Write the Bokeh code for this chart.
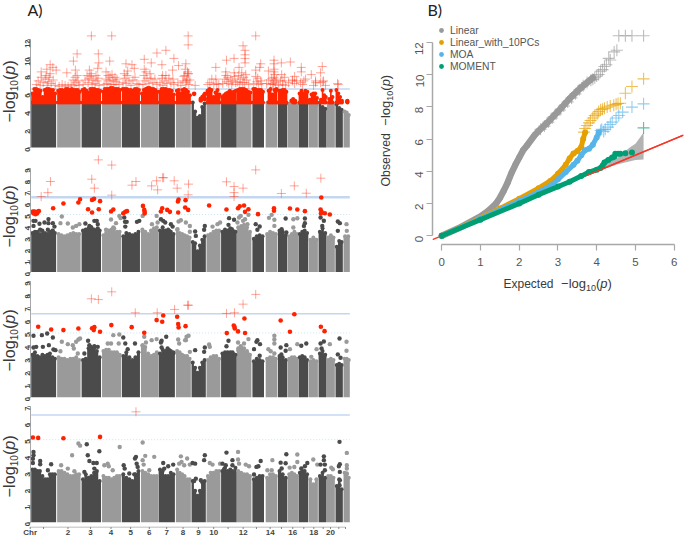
import math
import numpy as np
from bokeh.plotting import figure
from bokeh.layouts import row, column
from bokeh.models import Label, FixedTicker, Legend, LegendItem, Range1d
from bokeh.core.properties import value
from bokeh.embed import file_html
from bokeh.resources import INLINE

THRESHOLD = 6.5
SUGGESTIVE = 5.0

chr_start = [0,26,50.5,71,90.8,110,127.7,145,160.7,175.7,190.3,206,221.7,235,247.3,257.3,268,278.3,288,296.3,305,313]
chr_end = [25,49.5,70,90,109,127.3,144,160,175,189.7,206,220.7,233.3,246.7,256.7,267.7,277.7,287.3,296,304.3,312.3,319.3]
x_tick_pos = [0,13.3,37.7,60.3,80.7,100.3,119,136.3,152.7,168,183.3,197.7,212.7,226,239.7,251,262.3,273.3,283.3,292.7,300,308.3,315]
x_tick_lab = {0:"Chr",37.7:"2",60.3:"3",80.7:"4",100.3:"5",119:"6",136.3:"7",152.7:"8",168:"9",183.3:"10",212.7:"12",239.7:"14",262.3:"16",283.3:"18",300:"20"}

# Upper envelope of the dense points, per chromosome
p1_top = [[5.0]*6,[5.0]*6,[5.0]*5,[5.0]*5,[5.0]*5,[5.0]*5,[5.0]*4,[5.0]*4,[5.0,4.0,3.3,3.5,4.5,4.9],[5.0]*4,[5.0]*4,[5.0]*4,[5.0]*3,[5.0]*3,[4.85]*3,[4.9]*3,[4.9]*3,[4.8,4.9,4.7],[5.0,4.5,4.3],[4.85]*2,[4.8,4.4,4.2],[4.0,3.9,3.6]]
p2_top = [[3.4,3.5,3.5,3.3,3.6,3.4,3.3,3.5,3.6,3.4],[3.3,3.2,3.1,3.2,3.3,3.4,3.3,3.3],[3.6,3.7,3.8,3.9,3.7,3.6,3.6],[3.2,3.4,3.6,3.7,3.8,3.5,3.5],[3.1,3.4,3.3,3.2,3.3,3.5],[3.7,3.5,3.3,3.6,3.8,3.9],[3.6,3.9,3.6,3.7,3.5,3.3],[3.7,3.4,3.3,3.2,3.1,3.0],[2.6,2.5,1.8,2.3,2.8,3.1],[3.2,3.3,3.5,3.6,3.6],[3.5,3.7,3.6,3.8,3.6,3.5],[3.9,4.0,4.1,3.9,3.5],[2.9,3.1,3.2,3.1],[3.3,3.5,3.4,3.3],[3.6,3.5,3.2],[3.1,3.3,3.5,3.3],[3.3,3.5,3.6,3.4],[2.8,3.0,2.8],[3.5,3.8,3.4],[3.0,3.2,3.0],[2.2,2.7,2.6],[3.1,3.1]]
p3_top = [[3.3,3.5,3.2,3.1,3.3,3.2,3.3,3.4,3.1,3.0],[3.1,3.0,3.0,2.9,3.0,3.0,3.1,2.9],[2.9,3.0,3.8,3.9,3.8,3.6,3.1],[3.6,3.7,3.7,3.5,3.5,3.5,3.3],[3.2,3.5,3.1,2.9,3.1,3.5],[4.0,3.9,3.4,3.2,3.3,3.5],[3.4,3.7,3.6,3.6,3.6,3.4],[3.6,3.5,3.3,3.2,3.2,3.0],[2.7,2.3,1.9,2.3,2.7,2.9],[2.9,3.1,3.2,3.2,3.0],[3.4,3.5,3.5,3.5,3.4,3.3],[3.8,3.8,3.8,3.6,3.3],[2.8,3.0,2.9,2.8],[3.0,3.1,3.1,3.0],[3.2,3.1,2.9],[3.0,3.1,3.1,3.0],[3.1,3.2,3.1,2.9],[2.8,2.9,2.8],[3.4,3.6,3.3],[2.9,3.0,2.9],[2.5,2.6,2.5],[3.0,3.0,2.9]]
p4_top = [[3.2,3.2,3.1,3.1,2.8,2.6,2.6,2.9,2.9,2.9],[3.1,3.1,3.0,2.9,2.8,2.8,2.9,2.9],[2.6,2.9,2.7,2.8,3.0,3.1,2.5],[2.8,2.7,2.7,2.6,2.7,2.8,2.8],[2.9,2.7,2.6,2.5,2.9,3.1],[3.1,3.0,2.9,2.8,2.8,2.8],[3.2,3.1,2.8,2.8,3.0,2.9],[3.2,3.0,2.9,2.8,2.6,2.6],[2.5,1.9,1.6,1.9,2.4,2.5],[2.8,3.0,3.0,3.1,3.1],[3.1,3.3,3.1,3.2,3.1,3.3],[3.1,3.0,2.9,2.9,2.8],[2.6,2.7,2.8,2.8],[2.7,2.9,2.9,2.8],[3.1,2.9,2.7],[2.9,3.0,2.9,2.8],[3.0,3.1,3.1,2.9],[2.6,2.3,2.6],[2.8,3.0,2.7],[2.8,2.8,2.7],[2.2,2.6,2.0],[3.0,2.9,2.7]]

# Top of the dense red band of panel 1, per chromosome (0: no band)
p1_red_top = [[6.0,6.5,6.5,6.4,6.3,5.6,6.4,6.5,6.5,6.4,6.4,6.0],[6.3,6.4,6.4,6.3,6.5,6.5,6.4,6.5,6.4,6.4,6.4,6.2],[6.4,6.5,6.3,6.1,6.5,6.5,6.5,6.4,6.4,6.3],[6.2,6.5,6.5,6.5,6.6,6.6,6.5,6.5,6.5,6.4],[6.5,6.5,6.5,6.4,6.4,6.3,6.5,6.5,6.4],[6.0,6.4,6.5,6.6,6.6,6.5,6.5,6.4,6.2],[6.2,6.5,6.5,6.5,6.4,6.4,6.3,5.9],[6.3,6.4,6.0,6.4,6.5,6.4,6.2,5.8],[0],[6.3,6.5,6.4,5.6,6.1,6.4,5.9],[5.6,5.8,6.0,6.1,6.3,6.1,6.2,6.3],[6.4,6.5,6.5,6.5,6.4,6.2,6.1],[6.5,6.5,6.4,6.4,6.4,6.2],[0,6.3,6.5,5.9,6.4,6.5],[6.3,6.3,6.4,6.4,6.2],[0,0,5.4,5.2,0],[6.0,6.3,6.0,6.3,6.2],[5.3,5.9,6.0,6.0,5.5],[0,5.3,6.4,5.8,5.6],[0,5.4,6.3,5.6,0],[6.4,6.0,5.6,5.2],[0,0,5.2,0]]
p1_red = [(163.3,5.96),(170,5.22),(170,5.4),(171.7,5.6),(174,5.4),(174.3,5.96),(173.3,5.8),(316.7,5.1),(263,5.05),(261,5.2)]
p1_plus = [(60.3,12.4),(80.7,12.4),(157.3,12.4),(157.3,11.4),(46,10.4),(67.3,10.4),(42.3,9.6),(67.7,9.4),(78.7,9.6),(126,10.5),(135,10.8),(143,9.9),(113.3,9.8),(120.3,9.4),(95,9.3),(101,9.2),(131,9.2),(147.7,9.1),(155,9.3),(19,9.2),
(10,8.4),(15.7,8.7),(25,8.6),(21.7,8.9),(35.7,8.3),(44.3,8.6),(66.7,8.8),(58.3,8.6),(60,8.2),(75,8.4),(96.7,8.5),(103.3,8.8),(93.3,8.2),(113.3,8.7),(119,8.2),(131.7,8),(141.7,8.6),(156.7,8.4),(154.3,8.7),
(5,7),(7,7.4),(9,6.9),(10,7.8),(12,7.2),(14,7.6),(15,8),(16,6.9),(17,7.3),(18,7.8),(19,8.2),(20,7.1),(22,7.5),(24,6.9),
(28,6.8),(31,7),(34,6.9),(37,6.8),(40,7),(42,7.5),(43,6.9),(44,7.8),(45,7.2),(46,8),(47,7.4),(48,6.9),
(52,7),(54,7.5),(56,8),(57,7.2),(58,7.7),(60,7.9),(61,7.0),(62,7.5),(64,7.1),(65,8),(66,7.4),(67,7.7),(68,6.9),
(73,7.0),(75,7.6),(76,7.1),(77,8),(78,7.4),(79,7.8),(80,7),(81,8.1),(82,7.5),(83,7),(84,7.8),(85,7.3),(86,7.6),(88,7),
(92,7.2),(94,7.7),(95,7.1),(96,8),(98,7.4),(100,6.9),(102,7.5),(104,7.8),(106,7.1),(108,7),
(112,7),(113,8),(114,7.4),(115,8.4),(116,7.7),(118,7.1),(120,7.7),(122,7.2),(124,7.6),(126,7),
(129,7.2),(131,7.7),(132,6.9),(134,7.4),(135,8),(136,7.1),(138,7.7),(140,7.2),(142,7.6),(143,7),
(147,7.2),(150,6.9),(152,7.4),(153,7.9),(154,8),(155,7.2),(156,7.6),(157,8.2),(158,7),(159,7.5),(157.7,8.2),(156,7.4),(164.3,6.9),
(225,12.4),(212.3,11.3),(214.3,10.8),(214.3,10.3),(214.3,9.9),(214.3,9.4),(195.7,9.7),(203.3,9.9),(185,8.9),(243.3,9.7),(243.3,9.3),(243.3,8.7),(243.3,8.4),(243.3,7.8),(243.3,7.4),(250.7,9.4),(259.7,9.5),(270.7,8.9),(270.7,8.4),(291.7,9),(290,8.3),(280.7,8.1),(307.7,7),(230,9.3),(229,8.9),(225,8.6),(208.3,8.9),(195,8.4),(203.3,8.3),(237.7,8.5),(251,8.1),(264,7.9),(285,7.4),(292.3,7.3),(273.3,7.4),(261.7,7.4),(252.3,7.4),
(177,7),(179,7.2),(181,7.6),(183,7),(185,7.6),(186,7.1),(188,7),
(192,7.1),(194,7.6),(195,8),(196,7.3),(197,7.8),(198,7.1),(200,7.6),(201,7),(202,7.4),(204,7.9),(205,7.2),
(207,7.3),(208,8),(209,7),(210,7.6),(211,8.3),(212,7.2),(213,7.8),(214,7.2),(215,8.1),(216,7.5),(218,7),
(223,7.1),(225,7.9),(226,7.3),(227,7.7),(228,7),(230,7.4),(231,7.1),
(236,7.1),(238,7.5),(240,7),(241,7.7),(242,7.1),(243,7),(244,8.1),(245,7.2),(246,7.6),
(248,6.9),(250,7.4),(252,7),(254,7.8),(255,6.9),(258,7.2),(262,7.5),(264,7.1),(266,7.4),(270,7.2),(272,7),(275,7.6),(283,6.9),(285,7.2),(290,7.2),(293,7.4),(295,6.9),(307,7.1)]

p2_plus = [(67.3,9.75),(80.7,9.3),(19.3,7.87),(16.7,6.9),(10,6.56),(60.7,8.07),(63.3,7.29),(80.7,6.68),(101,7.55),(105,7.87),(120.7,7.49),(125.7,7.93),(126.7,7.14),(131.7,8.2),(132.7,8.2),(143.3,7.93),(146.3,7.29),(157.7,7.64),(157.3,6.71),(195.7,7.84),(203.3,7.43),(203.3,6.9),(203.3,6.56),(212.3,7.29),(225,8.88),(250.7,6.83),(263.7,7.49),(275.7,6.85),(290.3,8.16)]
p2_red = [(1.7,5.26),(3.3,5.26),(5,5.17),(6.7,5.26),(2.3,5.1),(4.3,5.03),(6,5.1),(7.7,5.3),(22,5.55),(32.3,5.96),(47.3,6.04),(49,6.33),(57,5.46),(61,5.17),(61,6.27),(63,6.36),(67.7,5.46),(69,6.16),(80,5.26),(82.3,5.43),(92.3,5.11),(94.3,5.23),(96,5.29),(112,5.75),(113.3,5.4),(113.7,5.23),(113.7,5.09),(130,5.26),(131.3,5.55),(136.3,5.4),(139,5.23),(147.3,5.17),(147,6.13),(147.7,6.3),(154.7,6.25),(154.3,5.61),(157.3,5.4),(178.3,5.78),(195.7,5.43),(207.3,5.55),(209,5.72),(213.3,5.78),(214.3,5.23),(217.7,5.46),(227.3,5.03),(243.3,5.55),(243.3,5.32),(259.3,5.52),(266.7,5.43),(274.3,5.29),(290.7,6.48),(290,5.43),(291,5.23),(290.3,5.09),(294.3,5.11),(299.3,5)]
p2_pts = [(2.3,4.45),(4.3,4.45),(2.3,4.01),(8.3,4.2),(13.3,4.3),(17.3,4.6),(17.3,4.25),(9,3.67),(16.7,3.67),(21.7,4.25),(23.3,3.95),(21.7,3.58),(30.7,4.83),(29.3,4.25),(36.7,4.22),(41.7,3.87),(45,4.01),(48.3,4.16),(54.3,4.22),(58.3,4.01),(63.3,4.45),(65.7,4.45),(66.7,4.16),(60,3.87),(66.7,3.78),(80,4.56),(85,4.25),(88.3,4.88),(89.5,4.7),(75,3.67),(82.3,3.87),(93.3,4.74),(94,4.36),(95.7,4.36),(94.3,3.95),(106,4.36),(108.3,4.45),(111.7,4.88),(121,4.16),(125.7,4.88),(126.7,4.3),(130,4.59),(132.3,4.45),(134.3,4.3),(140,4.16),(138.3,3.58),(141.7,3.95),(147.7,4.39),(150,4.5),(146.7,3.72),(155,4.3),(159,4.0),(159,3.5),(164.3,3.52),(165,3.14),(174,4.01),(173.3,3.67),(181.7,3.95),(186.7,4.16),(189.3,4.3),(198.3,4.68),(203.3,4.54),(197.7,4.1),(201,3.72),(210,4.88),(214.3,4.59),(217.7,4.97),(208.3,4.74),(212.3,4.45),(206.7,4.3),(216.7,4.16),(225,4.16),(229,3.96),(226.7,3.67),(238.3,4.71),(241,4.97),(243.7,4.54),(243.7,4.01),(255,4.65),(255.7,3.43),(251,3.72),(262.7,4.59),(266.7,4.68),(262.7,3.87),(274.3,4.65),(274.3,4.25),(273.3,4.01),(290,4.74),(293.3,4.45),(291.7,4.01),(307.3,4.39),(309.3,4.25),(307.3,3.58),(316,4.16),(316.3,3.58)]

p3_plus = [(60.3,7.66),(67.3,7.6),(80.7,8.2),(104.3,6.57),(126.3,6.57),(143.7,6.83),(157.7,7.16),(156.7,7.16),(195.7,6.52),(203.7,6.57),(212.3,7.24),(225,8.0)]
p3_red = [(7,5.48),(20,5.27),(32.3,5.22),(47.3,5.35),(61,5.37),(63.3,5.45),(62.7,5.22),(69,5.09),(80.3,5.61),(100.7,5.45),(113.3,5.01),(125.7,6),(131.3,5.87),(132.3,6.36),(146.3,6.26),(147.3,5.69),(147.7,5.43),(154.7,5.53),(196,4.99),(203,5.58),(203.7,5.48),(204,5.35),(207.3,5.12),(213.7,6.13),(214.3,5),(250,5.97),(259.3,5.09),(263.7,6.46),(290.3,5.48),(294,5.14)]
p3_pts = [(2.3,4.78),(10.7,4.83),(16,4.96),(21.7,4.65),(5,3.92),(2.3,3.87),(11.7,3.92),(22.3,3.71),(17.7,4.05),(24.3,3.66),(30.7,4.31),(29.3,3.58),(36.7,4.13),(41.7,4.05),(42.7,3.79),(45,4.31),(47.3,4.49),(49,4.57),(46.7,3.4),(57,4.39),(53.3,3.4),(58.3,4.05),(63.3,3.97),(66.7,3.92),(80,4.18),(82.3,4.83),(88.3,4.88),(87.7,4.18),(76.7,4.18),(92.3,4.65),(94.3,4.18),(96.7,3.74),(104,4.18),(113.3,4.7),(115,4.26),(120.7,4.44),(125.7,4.52),(111.7,4.05),(130.7,4.39),(130,4.26),(135.3,4.7),(130.7,3.87),(136.7,3.79),(138.3,3.66),(142.3,3.48),(147.3,4.49),(148.3,4.18),(154.3,4.44),(157.7,4.78),(155.7,4.7),(155,4.44),(159,3.53),(164.3,3.66),(173.3,3.53),(174,3.87),(178.3,4.1),(179,3.92),(197.7,4.39),(195.7,3.97),(201.7,3.48),(207.3,4.26),(213.3,4.18),(217.7,4.52),(210,3.97),(216.7,3.4),(207.7,3.66),(225.7,4.31),(226.7,4.44),(229.3,4.13),(223.3,3.74),(229,3.22),(243.7,4.78),(243.7,4.49),(243.7,4.18),(237.7,3.74),(240,3.58),(243.7,3.4),(250,3.87),(255.7,4.05),(255,3.61),(250.7,3.33),(259.3,3.74),(266.7,4.13),(270.7,4),(275.7,4.18),(280.7,3.14),(286,3.74),(290,4.18),(293.3,4.34),(291,3.79),(299.3,4.13),(309,4.57),(307.3,3.33),(310,3.07),(316,4.31),(316,3.61)]

p4_plus = [(105,6.69)]
p4_red = [(1.7,5.13),(7,5.11),(32.3,5.09),(69,5.17)]
p4_pts = [(2.3,4.26),(2.3,4.06),(1.7,3.85),(9,3.71),(1.7,3.59),(9,3.51),(20,3.51),(16.7,3.15),(30,3.45),(41,4.06),(47.3,4.77),(49,4.64),(36.7,3.25),(43.3,3.09),(55.7,4.72),(56.7,4.06),(58.3,3.71),(62.3,3.59),(65.7,3.59),(68.3,4.3),(53.3,3.05),(63.3,3.25),(73.3,3.45),(76.7,3.55),(77.7,3.39),(81.7,3.15),(88.7,4.56),(92.7,3.45),(93.7,3.25),(105,3.96),(104,3.86),(105.7,3.55),(106.7,3.35),(98.3,2.95),(103.3,2.9),(111.7,4.83),(114.3,4.02),(111.7,3.76),(112.7,3.49),(123.3,3.96),(118.3,3.15),(132.3,3.59),(137.3,3.39),(142.3,3.49),(133.3,3.25),(150,3.99),(150.7,3.65),(148.3,3.55),(153.3,3.45),(156.3,3.86),(159,3.49),(161.7,3.59),(164.3,3.55),(165,2.64),(163.3,2.5),(174,4.06),(173.3,3.76),(170,2.54),(179,3.59),(181.7,3.49),(189.3,3.55),(191.7,3.55),(195.7,4.22),(195,3.45),(193.3,3.21),(201.7,3.76),(201.7,3.45),(207.3,4.26),(207.3,3.8),(208.3,3.55),(215,3.49),(218.3,3.39),(230,3.71),(225.7,3.35),(227.7,3.39),(223.3,2.89),(241.7,3.76),(236.7,3.15),(241,3.15),(255.7,4.12),(250,3.61),(255,3.57),(251,3.25),(266.7,4.1),(259,3.31),(263.7,3.35),(266.7,3.65),(276.7,3.59),(274.3,3.39),(270.7,3.25),(282.7,3.8),(286.7,3.49),(293.3,3.99),(293.3,3.76),(290,3.49),(294.3,3.49),(294.3,3.15),(300.7,3.31),(302.3,3.21),(309,4.87),(309.3,3.51),(308.3,3.39),(309.3,3.05),(309.3,2.54),(309,2.24),(316.3,4.2),(316.3,3.45),(316.3,3.25),(316.3,2.95)]

# QQ panel
qq_names = ["Linear", "Linear_with_10PCs", "MOA", "MOMENT"]
qq_colors = ["#999999", "#E69F00", "#56B4E9", "#009E73"]
qq_widths = [6.5, 5, 5, 5]
linear_x = [0,0.5,1,1.2,1.4,1.5,1.6,1.7,1.8,1.9,2.0,2.1,2.2,2.4,2.5,2.7,3.0,3.3,3.6,3.9]
linear_y = [0,0.55,1.2,1.55,2.0,2.35,2.8,3.3,3.9,4.4,4.85,5.3,5.6,6.25,6.5,6.95,7.7,8.5,9.2,9.8]
linear_plus = [(2.55,6.6),(2.65,6.8),(2.75,7.05),(2.85,7.3),(2.95,7.55),(3.05,7.8),(3.15,8.05),(3.25,8.3),(3.35,8.55),(3.45,8.8),(3.55,9.05),(3.65,9.3),(3.75,9.5),(3.85,9.65),(3.9,9.7),(3.95,9.8),(4.0,9.9),(4.05,10.0),(4.1,10.2),(4.15,10.3),(4.2,10.5),(4.25,10.6),(4.31,11.0),(4.35,10.9),(4.45,11.4),(4.52,11.5),(4.57,12.4),(4.74,12.4),(4.91,12.4),(5.21,12.4)]
pcs_x = [0,1,1.5,2,2.5,2.8,3,3.2,3.3,3.4,3.5,3.6,3.65,3.7]
pcs_y = [0,1.1,1.7,2.3,2.95,3.4,3.85,4.4,4.8,5.1,5.25,5.5,6.0,6.4]
pcs_plus = [(3.67,6.43),(3.7,6.65),(3.75,6.84),(3.8,7.0),(3.84,7.15),(3.9,7.3),(3.95,7.45),(4.01,7.56),(4.05,7.7),(4.1,7.81),(4.15,7.85),(4.2,7.9),(4.27,7.98),(4.35,8.05),(4.44,8.1),(4.5,8.15),(4.55,8.2),(4.61,8.22),(4.74,8.84),(4.91,9.26),(5.21,9.73)]
moa_x = [0,1,2,2.5,2.8,3,3.2,3.4,3.5,3.6,3.7,3.8,3.9,4.0,4.05]
moa_y = [0,1.05,2.15,2.7,3.1,3.5,3.95,4.4,4.65,5.0,5.3,5.4,5.65,6.1,6.4]
moa_plus = [(4.1,6.53),(4.13,6.6),(4.18,6.47),(4.22,6.6),(4.29,6.74),(4.35,6.9),(4.4,7.05),(4.5,7.3),(4.57,7.46),(4.67,7.67),(4.91,7.98),(5.21,8.18)]
moment_x = [0,1,2,2.5,3,3.3,3.6,3.8,4,4.1,4.15,4.2,4.3,4.4,4.45]
moment_y = [0,1.0,2.0,2.55,3.05,3.35,3.7,3.95,4.1,4.2,4.35,4.55,4.7,4.85,4.9]
moment_pts = [(4.48,5.08),(4.55,5.08),(4.61,5.08),(4.74,5.12),(4.91,5.17)]
moment_plus = [(5.21,6.69)]
ci_x = [3.6,4.0,4.5,4.87,5.0,5.21,5.21,5.0,4.5,3.75,3.6]
ci_y = [3.6,4.2,4.8,5.5,5.7,6.4,4.73,4.7,4.4,3.74,3.6]
ref_x = [-0.24,6.24]
ref_y = [-0.24,6.24]

DARK, GREY = "#4b4b4b", "#9a9a9a"
RED_BAND = "#ff2400"
FONT = "Liberation Sans"
LEFT_W, TOTAL_W, TOTAL_H, TOP_H, STRIP_W = 368, 685, 538, 20, 19
X0, X1 = -0.7, 322.0
BASE_FIX = 0.4   # bokeh's alphabetic text sits this many font sizes below the anchor


def chr_index(x):
    return int(np.searchsorted(chr_start, x, side="right") - 1)


def pair_xy(pairs):
    return [a for a, _ in pairs], [b for _, b in pairs]


def strip(width, height):
    """Empty figure whose frame is its whole canvas: holds texts that lie outside the plot frames."""
    s = figure(width=width, height=height, output_backend="svg", toolbar_location=None,
               x_range=Range1d(0, width), y_range=Range1d(0, height), min_border=0,
               x_axis_location=None, y_axis_location=None)
    s.grid.visible = False
    s.outline_line_color = None
    return s


def add_title(s, x, y, text):
    s.add_layout(Label(x=x, y=y - 16 * BASE_FIX, x_units="canvas", y_units="canvas", text=text, text_font="Lato",
                       text_font_size="16px", text_color="#222222", text_baseline="alphabetic"))


def add_math(p, x, y, angle, size, sub, words=None, words_size=None, gap=7.5, sub_off=0.22):
    """-log10(p) built from real text pieces, advancing along the reading direction."""
    up = abs(angle) > 0.1

    def put(text, adv, off=0, fs=size, style="normal"):
        nonlocal x, y
        shift = off - fs * BASE_FIX
        px = x + (shift if up else 0)
        py = y + (0 if up else shift)
        p.add_layout(Label(x=px, y=py, x_units="canvas", y_units="canvas", text=text, angle=angle,
                           text_font=FONT, text_font_size=f"{fs}px", text_font_style=style,
                           text_color="#3a3a3a", text_align="left", text_baseline="alphabetic"))
        if up:
            y -= adv
        else:
            x += adv
    if words:
        put(words, words_size * (4.335 if up else 4.17) + gap, fs=words_size)
    put("\u2212log", size * 1.92)
    put("10", sub * 1.12, off=size * sub_off, fs=sub)
    put("(", size * 0.33)
    put("p", size * 0.55, style="italic")
    put(")", size * 0.33)


def steps(i, vals, floor):
    """Stepped outline of one chromosome from its binned tops."""
    wd = (chr_end[i] - chr_start[i]) / len(vals)
    xs_, ys_ = [chr_start[i]], [floor]
    for j, v in enumerate(vals):
        xs_ += [chr_start[i] + j * wd, chr_start[i] + (j + 1) * wd]
        ys_ += [max(v, floor), max(v, floor)]
    xs_.append(chr_end[i])
    ys_.append(floor)
    return xs_, ys_


def bin_centres(i, vals):
    wd = (chr_end[i] - chr_start[i]) / len(vals)
    return [chr_start[i] + (j + 0.5) * wd for j in range(len(vals))]


def manhattan(height, top_px, zero_px, per_unit, ticks, tops, plus, red, pts, red_top=None,
              thr_width=1.5, show_dots=True):
    bottom_px = top_px + height
    frame_top = top_px + 2
    frame_bottom = bottom_px - 1
    y0 = (zero_px - frame_bottom) / per_unit
    y1 = (zero_px - frame_top) / per_unit
    w = LEFT_W - STRIP_W
    p = figure(width=w, height=height, output_backend="svg", toolbar_location=None,
               x_range=Range1d(X0, X1), y_range=Range1d(y0, y1),
               min_border_left=29 - STRIP_W, min_border_right=w - (29 - STRIP_W) - 323,
               min_border_top=2, min_border_bottom=bottom_px - frame_bottom,
               x_axis_location=None)
    p.grid.visible = False
    p.outline_line_color = None
    ya = p.yaxis[0]
    ya.ticker = FixedTicker(ticks=ticks)
    ya.bounds = (ticks[0], ticks[-1])
    ya.major_label_orientation = math.pi / 2
    ya.major_label_text_font = FONT
    ya.major_label_text_font_size = "7.5px"
    ya.major_label_text_font_style = "bold"
    ya.major_label_text_color = "#444444"
    ya.major_label_standoff = 0
    ya.axis_line_color = "#a8a8a8"
    ya.major_tick_line_color = "#888888"
    ya.major_tick_in = 0
    ya.major_tick_out = 3
    ya.minor_tick_line_color = None

    p.segment(x0=[0], y0=[THRESHOLD], x1=[319.3], y1=[THRESHOLD], line_color="#c3d8f0", line_width=thr_width)
    if show_dots:
        p.segment(x0=[0], y0=[SUGGESTIVE], x1=[319.3], y1=[SUGGESTIVE], line_color="#c6e4f7",
                  line_width=1, line_dash="1 2")

    pxs, pys, pcol, bx, bt, bc = [], [], [], [], [], []
    for i, vals in enumerate(tops):
        col = DARK if i % 2 == 0 else GREY
        a, b = steps(i, vals, 0)
        pxs.append(a)
        pys.append(b)
        pcol.append(col)
        bx += bin_centres(i, vals)
        bt += vals
        bc += [col] * len(vals)
    p.patches(xs=pxs, ys=pys, fill_color=pcol, line_color=None)
    p.scatter(x=bx, y=bt, marker="circle", size=4, fill_color=bc, line_color=None)

    if pts:
        ox, oy = pair_xy(pts)
        oc = [DARK if chr_index(v) % 2 == 0 else GREY for v in ox]
        p.scatter(x=ox, y=oy, marker="circle", size=4.4, fill_color=oc, line_color=None)

    if red_top:
        rxs, rys, rx, rt = [], [], [], []
        for i, vals in enumerate(red_top):
            if max(vals) <= 0:
                continue
            a, b = steps(i, vals, SUGGESTIVE)
            rxs.append(a)
            rys.append(b)
            for c, v in zip(bin_centres(i, vals), vals):
                if v > 0:
                    rx.append(c)
                    rt.append(v)
        p.patches(xs=rxs, ys=rys, fill_color=RED_BAND, line_color=None)
        p.scatter(x=rx, y=rt, marker="circle", size=4, fill_color=RED_BAND, line_color=None)
        p.scatter(x=rx, y=[SUGGESTIVE] * len(rx), marker="circle", size=4, fill_color=RED_BAND, line_color=None)

    rx2, ry2 = pair_xy(red)
    p.scatter(x=rx2, y=ry2, marker="circle", size=4.6, fill_color="#ff2200", line_color=None)
    cx, cy = pair_xy(plus)
    p.scatter(x=cx, y=cy, marker="cross", size=9, line_color="#ff3a20", line_alpha=0.45, line_width=1, fill_color=None)
    return p


p1 = manhattan(132, TOP_H, 147.0, 9.0, list(range(0, 13, 2)), p1_top, p1_plus, p1_red, [], red_top=p1_red_top,
               thr_width=1.5, show_dots=False)
p2 = manhattan(124, 152, 271.5, 11.5, list(range(0, 10)), p2_top, p2_plus, p2_red, p2_pts, thr_width=2.5)
p3 = manhattan(125, 276, 396.7, 12.85, list(range(0, 10)), p3_top, p3_plus, p3_red, p3_pts)
p4 = manhattan(125, 401, 521.7, 16.5, list(range(0, 8)), p4_top, p4_plus, p4_red, p4_pts)

s1, s2, s3, s4 = strip(STRIP_W, 132), strip(STRIP_W, 124), strip(STRIP_W, 125), strip(STRIP_W, 125)
add_math(s1, 15.5, 122 - TOP_H, math.pi / 2, 16.3, 10, sub_off=0.1)
add_math(s2, 15.5, 247 - 152, math.pi / 2, 16.3, 10, sub_off=0.1)
add_math(s3, 15.5, 371 - 276, math.pi / 2, 16.3, 10, sub_off=0.1)
add_math(s4, 15.5, 497 - 401, math.pi / 2, 16.3, 10, sub_off=0.1)

# Chromosome axis below the last panel, on the same horizontal scale as the panels
CHR_H = 12
chr_strip = figure(width=LEFT_W, height=CHR_H, output_backend="svg", toolbar_location=None,
                   x_range=Range1d(X0 - 29, X0 - 29 + LEFT_W * (X1 - X0) / 323), y_range=Range1d(0, CHR_H), min_border=0,
                   x_axis_location=None, y_axis_location=None)
chr_strip.grid.visible = False
chr_strip.outline_line_color = None
chr_strip.segment(x0=[x_tick_pos[0]], y0=[CHR_H - 0.5], x1=[x_tick_pos[-1]], y1=[CHR_H - 0.5], line_color="#a8a8a8", line_width=1)
chr_strip.segment(x0=x_tick_pos, y0=[CHR_H - 0.5] * len(x_tick_pos), x1=x_tick_pos, y1=[CHR_H - 2.5] * len(x_tick_pos),
                  line_color="#888888", line_width=1)
lab_x = list(x_tick_lab.keys())
lab_t = list(x_tick_lab.values())
chr_strip.text(x=lab_x, y=[6.5] * len(lab_x), text=lab_t, text_align="center", text_baseline="middle",
               text_font=value(FONT), text_font_size="8px", text_font_style="bold", text_color="#444444")

top_left = strip(LEFT_W, TOP_H)
add_title(top_left, 27, 15, "A)")

# --- QQ panel
STRIP_Q = 37
q_w = TOTAL_W - LEFT_W - STRIP_Q
q_h = 254
q_left, q_right, q_top, q_bottom = 432, 683, TOP_H, 244
xs, ys = 38.73, 16.13
q = figure(width=q_w, height=q_h, output_backend="svg", toolbar_location=None,
           x_range=Range1d((q_left - 441.3) / xs, (q_right - 441.3) / xs),
           y_range=Range1d((235.3 - q_bottom) / ys, (235.3 - q_top) / ys),
           min_border_left=q_left - LEFT_W - STRIP_Q, min_border_right=TOTAL_W - q_right,
           min_border_top=0, min_border_bottom=q_top + q_h - q_bottom)
q.grid.visible = False
q.outline_line_color = None
for ax, ticks in ((q.xaxis[0], [0, 1, 2, 3, 4, 5, 6]), (q.yaxis[0], [0, 2, 4, 6, 8, 10, 12])):
    ax.ticker = FixedTicker(ticks=ticks)
    ax.bounds = (ticks[0], ticks[-1])
    ax.axis_line_color = "#a8a8a8"
    ax.axis_line_width = 1.5
    ax.major_tick_line_color = "#a8a8a8"
    ax.major_tick_line_width = 1.2
    ax.major_tick_in = 0
    ax.major_tick_out = 6
    ax.minor_tick_line_color = None
    ax.major_label_text_font = FONT
    ax.major_label_text_font_size = "11.5px"
    ax.major_label_text_color = "#555555"
    ax.major_label_standoff = 7
q.yaxis[0].major_label_orientation = math.pi / 2

q.patch(x=ci_x, y=ci_y, fill_color="#b3b3b3", line_color=None)
q.line(x=ref_x, y=ref_y, line_color="#f4382a", line_width=1.4)
series = [(linear_x, linear_y, linear_plus), (pcs_x, pcs_y, pcs_plus), (moa_x, moa_y, moa_plus), (moment_x, moment_y, moment_plus)]
items = []
for name, col, wd, (lx, ly, plus) in zip(qq_names, qq_colors, qq_widths, series):
    q.line(x=lx, y=ly, line_color=col, line_width=wd, line_cap="round", line_join="round")
    dots = q.scatter(x=lx, y=ly, marker="circle", size=6, fill_color=col, line_color=None)
    cx, cy = pair_xy(plus)
    q.scatter(x=cx, y=cy, marker="cross", size=12, line_color=col, line_alpha=0.65, line_width=1.1, fill_color=None)
    items.append(LegendItem(label=name, renderers=[dots]))
mx, my = pair_xy(moment_pts)
q.scatter(x=mx, y=my, marker="circle", size=6, fill_color=qq_colors[3], line_color=None)
q.line(x=[3.75, 6.24], y=[3.75, 6.24], line_color="#f4382a", line_width=1.4)

legend = Legend(items=items, location=(2, 172), background_fill_alpha=0, border_line_color=None,
                label_text_font=FONT, label_text_font_size="10.3px", label_text_color="#555555",
                glyph_width=14, glyph_height=12, spacing=0, padding=0, margin=0, label_standoff=2,
                label_height=12)
q.add_layout(legend, "center")

top_right = strip(TOTAL_W - LEFT_W, TOP_H)
add_title(top_right, 427 - LEFT_W, 15, "B)")
q_ystrip = strip(STRIP_Q, q_h)
add_math(q_ystrip, 22, 186 - TOP_H, math.pi / 2, 13, 9, words="Observed", words_size=12.3)
bottom_right = strip(TOTAL_W - LEFT_W, TOTAL_H - TOP_H - q_h)
add_math(bottom_right, 503 - LEFT_W, 288 - TOP_H - q_h, 0, 13, 9, words="Expected", words_size=12)

left = column(top_left, row(s1, p1, spacing=0), row(s2, p2, spacing=0), row(s3, p3, spacing=0), row(s4, p4, spacing=0), chr_strip, spacing=0)
right = column(top_right, row(q_ystrip, q, spacing=0), bottom_right, spacing=0)
page = row(left, right, spacing=0)
open("out.html", "w").write(file_html(page, INLINE))
